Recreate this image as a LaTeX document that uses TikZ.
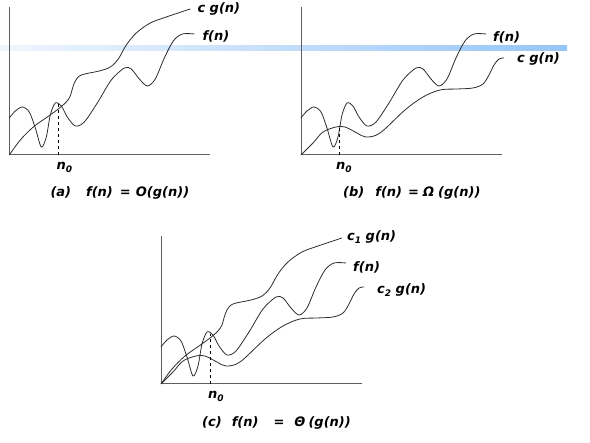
\documentclass[tikz,border=0pt]{standalone}
\usepackage{fontspec}
\setmainfont{DejaVu Sans}
\usepackage{tikz}
\usetikzlibrary{positioning}

\definecolor{bandpale}{RGB}{240,246,254}
\definecolor{bandblue}{RGB}{150,197,246}
\definecolor{curvegray}{RGB}{45,45,45}
\definecolor{axisgray}{RGB}{95,95,95}

\newcommand{\lowidx}[1]{\raisebox{-0.45ex}{\fontsize{9}{10}\selectfont #1}}
\newcommand{\drawfn}{\draw[curve] plot[smooth,tension=0.5] coordinates {(0,37) (6,44) (13,48) (20,43) (26,27) (32,8) (37,18) (41,40) (46,52) (52,49) (58,38) (66,29) (75,33) (88,52) (102,75) (115,87) (122,86) (130,76) (138,69) (146,76) (155,97) (164,114) (173,121) (185,121)};}
\newcommand{\drawupper}{\draw[curve] plot[smooth,tension=0.55] coordinates {(0,0) (11,15) (24,28) (38,38) (49,46) (57,53) (61,59) (63,66) (66,74) (72,80) (90,84) (101,88) (109,96) (117,110) (127,122) (141,132) (157,138) (181,146)};}
\newcommand{\drawlower}{\draw[curve] plot[smooth,tension=0.55] coordinates {(0,0) (12,12) (22,23) (35,28) (44,28) (56,22) (65,18) (79,22) (104,45) (122,58) (139,65) (156,66) (172,67) (182,71) (188,80) (193,90) (198,96) (203,97)};}

\begin{document}
\begin{tikzpicture}[x=1pt,y=1pt,
  curve/.style={curvegray,line width=0.8pt},
  axis/.style={axisgray,line width=1pt},
  lbl/.style={font=\fontsize{13}{15}\selectfont\bfseries\itshape,inner sep=0pt},
  capline/.style={lbl,anchor=west}]
\useasboundingbox (0,0) rectangle (590,443);
\shade[left color=bandpale,right color=bandblue] (0,392) rectangle (567,397);

% (a)  O
\begin{scope}[shift={(9.3,288)}]
    \coordinate (oa) at (0,0);
    \coordinate (ya) at (0,148);
    \coordinate (xa) at (201,0);
    \draw[axis] (ya) -- (oa) -- (xa);
    \drawfn
    \drawupper
    \coordinate (n0a) at (49,0);
    \coordinate (pa) at (49,52);
    \draw[dashed,line width=0.6pt] (n0a) -- (pa);
    \node[lbl,below right=7pt and -2pt of n0a] (na) {n\lowidx{0}};
    \node[lbl,anchor=west] (cga) at (188,146.5) {c g(n)};
    \node[lbl,anchor=west] (fa) at (193,118.5) {f(n)};
    \node[capline] (capa) at (41,-38) {(a)\hspace{15pt}f(n)\hspace{7pt}=\hspace{5pt}O(g(n))};
\end{scope}

% (b)  Omega
\begin{scope}[shift={(301,288)}]
    \coordinate (ob) at (0,0);
    \coordinate (yb) at (0,148);
    \coordinate (xb) at (201,0);
    \draw[axis] (yb) -- (ob) -- (xb);
    \drawfn
    \drawlower
    \coordinate (n0b) at (38,0);
    \coordinate (pb) at (38,28);
    \draw[dashed,line width=0.6pt] (n0b) -- (pb);
    \node[lbl,below right=7pt and -3pt of n0b] (nb) {n\lowidx{0}};
    \node[lbl,anchor=west] (fb) at (192,118) {f(n)};
    \node[lbl,anchor=west] (cgb) at (216,96) {c g(n)};
    \node[capline] (capb) at (42,-38) {(b)\hspace{11pt}f(n)\hspace{6pt}=\hspace{4pt}Ω\hspace{4pt}(g(n))};
\end{scope}

% (c)  Theta
\begin{scope}[shift={(161,59)}]
    \coordinate (oc) at (0,0);
    \coordinate (yc) at (0,148);
    \coordinate (xc) at (201,0);
    \draw[axis] (yc) -- (oc) -- (xc);
    \drawfn
    \drawupper
    \drawlower
    \coordinate (n0c) at (49,0);
    \coordinate (pc) at (49,50);
    \draw[dashed,line width=0.6pt] (n0c) -- (pc);
    \node[lbl,below right=7pt and -2pt of n0c] (nc) {n\lowidx{0}};
    \node[lbl,anchor=west] (c1c) at (186,147) {c\lowidx{1} g(n)};
    \node[lbl,anchor=west] (fc) at (192,117) {f(n)};
    \node[lbl,anchor=west] (c2c) at (216,94) {c\lowidx{2} g(n)};
    \node[capline] (capc) at (41,-39) {(c)\hspace{10pt}f(n)\hspace{15pt}=\hspace{10pt}Θ\hspace{3pt}(g(n))};
\end{scope}
\end{tikzpicture}
\end{document}
